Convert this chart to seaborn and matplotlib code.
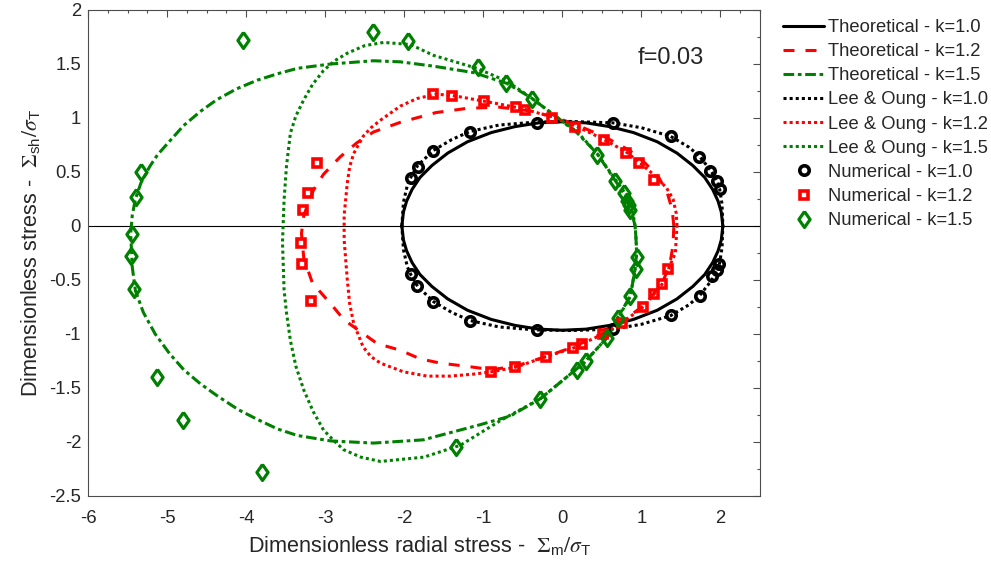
import matplotlib
matplotlib.use("Agg")
import matplotlib.pyplot as plt
import seaborn as sns
from matplotlib.ticker import MultipleLocator, FuncFormatter

# ---------------- Data ----------------
# Theoretical k=1.0 (closed curve, upper half left->right then lower half right->left)
theo10_x = [-2.03, -2.01, -1.97, -1.90, -1.80, -1.65, -1.45, -1.20, -0.90, -0.60, -0.30, 0.00,
            0.30, 0.60, 0.90, 1.20, 1.45, 1.65, 1.80, 1.90, 1.97, 2.01, 2.03,
            2.01, 1.97, 1.90, 1.80, 1.65, 1.45, 1.20, 0.90, 0.60, 0.30, 0.00,
            -0.30, -0.60, -0.90, -1.20, -1.45, -1.65, -1.80, -1.90, -1.97, -2.01, -2.03]
theo10_y = [0.00, 0.13, 0.23, 0.34, 0.45, 0.56, 0.675, 0.78, 0.865, 0.92, 0.955, 0.965,
            0.955, 0.92, 0.865, 0.78, 0.675, 0.56, 0.45, 0.34, 0.23, 0.13, 0.00,
            -0.13, -0.23, -0.34, -0.45, -0.56, -0.675, -0.78, -0.865, -0.92, -0.955, -0.965,
            -0.955, -0.92, -0.865, -0.78, -0.675, -0.56, -0.45, -0.34, -0.23, -0.13, 0.00]

# Theoretical k=1.2
theo12_x = [1.41, 1.39, 1.33, 1.22, 1.05, 0.85, 0.55, 0.20, -0.10, -0.45, -0.80, -1.20, -1.60,
            -2.05, -2.39, -2.60, -2.81, -3.02, -3.15, -3.27, -3.30, -3.27, -3.16, -2.93, -2.76,
            -2.55, -2.34, -2.05, -1.80, -1.54, -1.20, -0.90, -0.60, -0.21, 0.14, 0.52, 0.75,
            1.02, 1.16, 1.28, 1.36, 1.40, 1.41]
theo12_y = [0.00, 0.15, 0.30, 0.45, 0.58, 0.70, 0.82, 0.93, 1.01, 1.07, 1.10, 1.09, 1.05,
            0.96, 0.87, 0.77, 0.64, 0.48, 0.33, 0.10, -0.07, -0.30, -0.53, -0.72, -0.87,
            -0.98, -1.09, -1.15, -1.23, -1.27, -1.30, -1.33, -1.30, -1.21, -1.12, -0.99, -0.89,
            -0.74, -0.62, -0.50, -0.35, -0.18, 0.00]

# Theoretical k=1.5
theo15_x = [0.92, 0.91, 0.87, 0.80, 0.66, 0.44, 0.19, -0.11, -0.40, -0.70, -1.12, -1.63, -2.05,
            -2.39, -2.93, -3.35, -3.60, -3.86, -4.12, -4.37, -4.58, -4.79, -4.95, -5.12, -5.22,
            -5.33, -5.40, -5.44, -5.46, -5.44, -5.40, -5.30, -5.15, -4.97, -4.79, -4.58, -4.37,
            -4.10, -3.86, -3.60, -3.35, -2.93, -2.39, -1.76, -1.04, -0.66, -0.28, 0.27,
            0.57, 0.69, 0.86, 0.92, 0.94, 0.93, 0.92]
theo15_y = [0.00, 0.03, 0.14, 0.28, 0.43, 0.67, 0.86, 1.03, 1.19, 1.32, 1.42, 1.48, 1.52,
            1.53, 1.50, 1.46, 1.41, 1.35, 1.27, 1.17, 1.06, 0.93, 0.80, 0.66, 0.55,
            0.40, 0.25, 0.10, -0.07, -0.38, -0.60, -0.80, -1.00, -1.18, -1.33, -1.46, -1.57,
            -1.70, -1.79, -1.88, -1.94, -1.99, -2.01, -1.98, -1.84, -1.76, -1.60, -1.27,
            -1.03, -0.86, -0.65, -0.40, -0.25, -0.10, 0.00]

# Lee & Oung k=1.0
lee10_x = [-2.03, -2.01, -1.96, -1.91, -1.83, -1.63, -1.40, -1.17, -0.80, -0.32, 0.10, 0.64,
           1.00, 1.37, 1.60, 1.73, 1.87, 1.96, 1.99, 2.02, 2.03,
           2.02, 1.99, 1.96, 1.87, 1.73, 1.60, 1.37, 1.00, 0.64, 0.10, -0.32, -0.80,
           -1.17, -1.40, -1.63, -1.83, -1.91, -1.96, -2.01, -2.03]
lee10_y = [0.00, 0.22, 0.38, 0.46, 0.56, 0.70, 0.80, 0.875, 0.935, 0.963, 0.968, 0.955,
           0.91, 0.83, 0.73, 0.65, 0.52, 0.42, 0.34, 0.20, 0.00,
           -0.20, -0.34, -0.42, -0.52, -0.65, -0.73, -0.83, -0.91, -0.955, -0.968, -0.963, -0.935,
           -0.875, -0.80, -0.70, -0.56, -0.46, -0.38, -0.22, 0.00]

# Lee & Oung k=1.2
lee12_x = [1.45, 1.44, 1.40, 1.32, 1.18, 0.99, 0.80, 0.50, 0.16, -0.13, -0.47, -0.80, -1.10,
           -1.40, -1.60, -1.84, -2.05, -2.30, -2.42, -2.52, -2.64, -2.69, -2.72, -2.76, -2.76,
           -2.72, -2.69, -2.64, -2.52, -2.42, -2.30, -2.01, -1.71, -1.42, -1.10, -0.90, -0.60,
           -0.21, 0.14, 0.25, 0.52, 0.75, 1.02, 1.16, 1.26, 1.34, 1.43, 1.45]
lee12_y = [0.00, 0.12, 0.25, 0.35, 0.46, 0.58, 0.69, 0.81, 0.93, 1.01, 1.08, 1.13, 1.17,
           1.21, 1.22, 1.18, 1.11, 0.98, 0.91, 0.83, 0.67, 0.55, 0.40, 0.10, -0.13,
           -0.50, -0.72, -0.90, -1.12, -1.21, -1.27, -1.35, -1.39, -1.39, -1.37, -1.35, -1.31,
           -1.21, -1.13, -1.09, -1.00, -0.90, -0.75, -0.63, -0.54, -0.40, -0.25, 0.00]

# Lee & Oung k=1.5
lee15_x = [0.92, 0.88, 0.80, 0.66, 0.44, 0.19, -0.11, -0.40, -0.70, -1.08, -1.63, -1.92, -2.26,
           -2.50, -2.72, -2.88, -3.02, -3.16, -3.27, -3.37, -3.44, -3.49, -3.52, -3.54, -3.52,
           -3.49, -3.44, -3.37, -3.27, -3.15, -3.02, -2.90, -2.77, -2.55, -2.30, -1.75, -1.29,
           -0.78, -0.28, 0.27, 0.57, 0.70, 0.86, 0.92, 0.94, 0.93, 0.92]
lee15_y = [0.00, 0.18, 0.30, 0.44, 0.67, 0.87, 1.03, 1.19, 1.34, 1.46, 1.58, 1.68, 1.70,
           1.67, 1.60, 1.53, 1.44, 1.31, 1.17, 1.02, 0.86, 0.55, 0.24, -0.15, -0.59,
           -0.80, -1.06, -1.30, -1.52, -1.72, -1.89, -1.98, -2.07, -2.14, -2.18, -2.14, -2.03,
           -1.80, -1.60, -1.27, -1.03, -0.86, -0.65, -0.40, -0.25, -0.10, 0.00]

# Numerical results
num10_x = [-0.32, 0.64, -1.17, 1.37, -1.63, 1.73, -1.83, 1.87, -1.92, 1.96, 1.99,
           1.98, 1.95, 1.89, -1.92, -1.84, 1.74, -1.64, 1.37, -1.17, -0.32, 0.64]
num10_y = [0.957, 0.95, 0.87, 0.83, 0.69, 0.64, 0.55, 0.51, 0.44, 0.42, 0.34,
           -0.35, -0.41, -0.46, -0.44, -0.56, -0.65, -0.70, -0.82, -0.88, -0.96, -0.957]

num12_x = [-1.63, -1.39, -0.99, -0.59, -0.47, -0.13, 0.16, 0.53, 0.81, 0.97, 1.16,
           -3.10, -3.22, -3.28, -3.30, -3.29, -3.18,
           1.34, 1.26, 1.16, 1.02, 0.75, 0.52, 0.25, 0.14, -0.21, -0.60, -0.90]
num12_y = [1.22, 1.20, 1.16, 1.10, 1.07, 1.00, 0.92, 0.80, 0.68, 0.58, 0.43,
           0.58, 0.31, 0.15, -0.16, -0.35, -0.69,
           -0.40, -0.54, -0.63, -0.75, -0.90, -1.00, -1.09, -1.13, -1.21, -1.31, -1.35]

num15_x = [-4.04, -2.40, -1.95, -1.07, -0.71, -0.38, 0.44, 0.67, 0.78, 0.82, 0.84, 0.86,
           -5.33, -5.39, -5.44, -5.46, -5.42, -5.13, -4.80, -3.80, -1.35, -0.28, 0.19, 0.30,
           0.57, 0.71, 0.85, 0.93, 0.94]
num15_y = [1.72, 1.80, 1.71, 1.47, 1.32, 1.18, 0.66, 0.42, 0.31, 0.23, 0.19, 0.15,
           0.50, 0.27, -0.07, -0.28, -0.58, -1.40, -1.80, -2.28, -2.05, -1.60, -1.33, -1.25,
           -1.04, -0.85, -0.65, -0.40, -0.29]

# ---------------- Style ----------------
sns.set_style("white")
plt.rcParams["font.family"] = ["Liberation Sans", "DejaVu Sans"]
plt.rcParams["mathtext.fontset"] = "stix"
plt.rcParams["axes.unicode_minus"] = False

fig = plt.figure(figsize=(9.91, 5.72), dpi=100)
ax = fig.add_axes([88 / 991, 76 / 572, 672 / 991, 486 / 572])

LW = 2.2
common = dict(sort=False, estimator=None, ax=ax)

# ---------------- Curves ----------------
sns.lineplot(x=theo10_x, y=theo10_y, color="black", linewidth=LW, linestyle="-",
             label="Theoretical - k=1.0", **common)
sns.lineplot(x=theo12_x, y=theo12_y, color="red", linewidth=LW, linestyle=(0, (3.6, 3.6)),
             label="Theoretical - k=1.2", **common)
sns.lineplot(x=theo15_x, y=theo15_y, color="green", linewidth=LW,
             linestyle=(0, (3.5, 1.2, 1.2, 1.2)), label="Theoretical - k=1.5", **common)
sns.lineplot(x=lee10_x, y=lee10_y, color="black", linewidth=LW, linestyle=(0, (1, 1)),
             label="Lee & Oung - k=1.0", **common)
sns.lineplot(x=lee12_x, y=lee12_y, color="red", linewidth=LW, linestyle=(0, (1, 1)),
             label="Lee & Oung - k=1.2", **common)
sns.lineplot(x=lee15_x, y=lee15_y, color="green", linewidth=LW, linestyle=(0, (1, 1)),
             label="Lee & Oung - k=1.5", **common)

# ---------------- Numerical markers ----------------
diamond = [(0, 1), (0.7, 0), (0, -1), (-0.7, 0), (0, 1)]
sns.lineplot(x=num10_x, y=num10_y, linestyle="none", marker="o", markersize=6.8,
             markerfacecolor="none", markeredgecolor="black", markeredgewidth=2.6,
             color="black", label="Numerical - k=1.0", zorder=5, **common)
sns.lineplot(x=num12_x, y=num12_y, linestyle="none", marker="s", markersize=6.3,
             markerfacecolor="none", markeredgecolor="red", markeredgewidth=2.6,
             color="red", label="Numerical - k=1.2", zorder=5, **common)
sns.lineplot(x=num15_x, y=num15_y, linestyle="none", marker=diamond, markersize=11.5,
             markerfacecolor="none", markeredgecolor="green", markeredgewidth=2.3,
             color="green", label="Numerical - k=1.5", zorder=5, **common)

ax.axhline(0, color="black", linewidth=0.8, zorder=1)

ax.text(0.95, 1.56, "f=0.03", fontsize=17, ha="left", va="center")

# ---------------- Axes ----------------
ax.set_xlim(-6, 2.5)
ax.set_ylim(-2.5, 2)
ax.xaxis.set_major_locator(MultipleLocator(1))
ax.xaxis.set_minor_locator(MultipleLocator(0.25))
ax.yaxis.set_major_locator(MultipleLocator(0.5))
ax.yaxis.set_minor_locator(MultipleLocator(0.25))
fmt = FuncFormatter(lambda v, p: f"{v:g}")
ax.xaxis.set_major_formatter(fmt)
ax.yaxis.set_major_formatter(fmt)

ax.tick_params(which="both", direction="in", top=True, right=True, color="0.3",
               width=0.8, labelsize=13.3)
ax.tick_params(which="major", length=5)
ax.tick_params(which="minor", length=2.5)
ax.tick_params(axis="x", pad=10)
ax.tick_params(axis="y", pad=5)
for sp in ax.spines.values():
    sp.set_color("0.3")
    sp.set_linewidth(0.8)

ax.set_xlabel(r"Dimensionless radial stress -  $\Sigma_{\mathregular{m}}/\sigma_{\mathregular{T}}$",
              fontsize=15.6)
ax.set_ylabel(r"Dimensionless stress -  $\Sigma_{\mathregular{sh}}/\sigma_{\mathregular{T}}$",
              fontsize=15.6)
ax.xaxis.set_label_coords(0.494, -0.078)
ax.yaxis.set_label_coords(-0.068, 0.5)

# seaborn puts a legend inside the axes; the reference has it outside on the right
handles, labels = ax.get_legend_handles_labels()
if ax.get_legend() is not None:
    ax.get_legend().remove()
fig.legend(handles, labels, loc="upper left", bbox_to_anchor=(783 / 991, 1 - 19 / 572),
           frameon=False, fontsize=13.2, handlelength=2.25, handletextpad=0.22,
           labelspacing=0.39, borderpad=0, borderaxespad=0)

fig.savefig("out.png", dpi=100)
